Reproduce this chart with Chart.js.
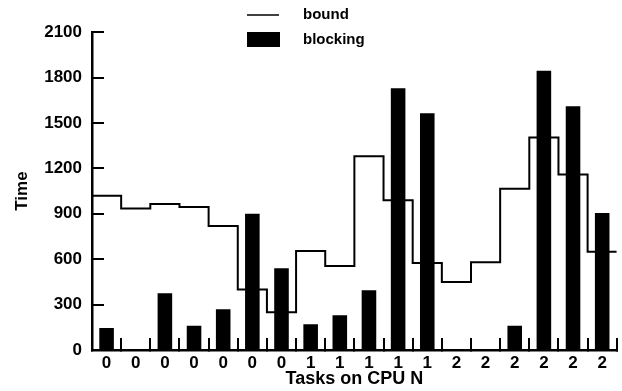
<!DOCTYPE html>
<html>
<head>
<meta charset="utf-8">
<script src="https://cdn.jsdelivr.net/npm/chart.js@4/dist/chart.umd.min.js"></script>
<style>
  html, body { margin: 0; padding: 0; background: #fff; }
  #wrap { width: 622px; height: 391px; position: relative; }
</style>
</head>
<body>
<div id="wrap"><canvas id="c" width="622" height="391"></canvas></div>
<script>
const categories = ['0','0','0','0','0','0','0','1','1','1','1','1','2','2','2','2','2','2'];
const blocking = [145, 0, 375, 160, 270, 900, 540, 170, 230, 395, 1730, 1565, 0, 0, 160, 1845, 1610, 905];
const bound = [1020, 935, 965, 945, 820, 400, 250, 655, 555, 1280, 990, 575, 450, 580, 1065, 1405, 1160, 650];
const yTicks = [0, 300, 600, 900, 1200, 1500, 1800, 2100];
const legendLabels = ['bound', 'blocking'];

// step line points at category boundaries (on a hidden linear axis matching the category slots)
const boundPoints = bound.map((v, i) => ({ x: i - 0.5, y: v }));
boundPoints.push({ x: bound.length - 0.5, y: bound[bound.length - 1] });

const FONT = "'Liberation Sans', Arial, Helvetica, sans-serif";

const legendPlugin = {
  id: 'customLegend',
  afterDraw(chart) {
    const ctx = chart.ctx;
    ctx.save();
    ctx.fillStyle = '#000';
    ctx.strokeStyle = '#000';
    ctx.lineWidth = 1.5;
    ctx.beginPath();
    ctx.moveTo(247, 15);
    ctx.lineTo(279, 15);
    ctx.stroke();
    ctx.fillRect(247, 32, 33, 15);
    ctx.font = "bold 15px " + FONT;
    ctx.textBaseline = 'alphabetic';
    ctx.textAlign = 'left';
    ctx.fillText(legendLabels[0], 303, 19);
    ctx.fillText(legendLabels[1], 303, 44);
    ctx.restore();
  }
};

new Chart(document.getElementById('c'), {
  data: {
    labels: categories,
    datasets: [
      {
        type: 'line',
        label: legendLabels[0],
        data: boundPoints,
        xAxisID: 'x2',
        yAxisID: 'y',
        borderColor: '#000',
        borderWidth: 2,
        pointRadius: 0,
        stepped: 'before',
        fill: false,
        tension: 0,
        order: 2
      },
      {
        type: 'bar',
        label: legendLabels[1],
        data: blocking,
        xAxisID: 'x',
        yAxisID: 'y',
        backgroundColor: '#000',
        borderWidth: 0,
        grouped: false,
        barPercentage: 0.5,
        categoryPercentage: 1.0,
        order: 1
      }
    ]
  },
  options: {
    responsive: false,
    animation: false,
    devicePixelRatio: 1,
    layout: { padding: { top: 17, right: 3, left: 0, bottom: 0 } },
    plugins: { legend: { display: false }, tooltip: { enabled: false } },
    scales: {
      x: {
        type: 'category',
        position: 'bottom',
        offset: true,
        afterFit(s) { s.height = 41; },
        border: { display: true, color: '#000', width: 2.5 },
        grid: { display: true, offset: true, drawOnChartArea: false, drawTicks: true, tickLength: -12, color: '#000', lineWidth: 2 },
        ticks: { color: '#000', font: { family: FONT, size: 17, weight: 'bold' }, padding: 15, maxRotation: 0, autoSkip: false },
        title: { display: true, text: 'Tasks on CPU N', color: '#000', font: { family: FONT, size: 18, weight: 'bold' }, padding: { top: 0, bottom: 1 } }
      },
      x2: {
        type: 'linear',
        position: 'bottom',
        display: false,
        min: -0.5,
        max: categories.length - 0.5
      },
      y: {
        type: 'linear',
        position: 'left',
        min: yTicks[0],
        max: yTicks[yTicks.length - 1],
        afterFit(s) { s.width = 92; },
        afterBuildTicks(s) { s.ticks = yTicks.map(v => ({ value: v })); },
        border: { display: true, color: '#000', width: 2.5 },
        grid: { display: true, drawOnChartArea: false, drawTicks: true, tickLength: -12, color: '#000', lineWidth: 2 },
        ticks: { color: '#000', font: { family: FONT, size: 17, weight: 'bold' }, padding: 22, callback: v => String(v) },
        title: { display: true, text: 'Time', color: '#000', font: { family: FONT, size: 17, weight: 'bold' }, padding: { top: 12, bottom: 0 } }
      }
    }
  },
  plugins: [legendPlugin]
});
</script>
</body>
</html>
